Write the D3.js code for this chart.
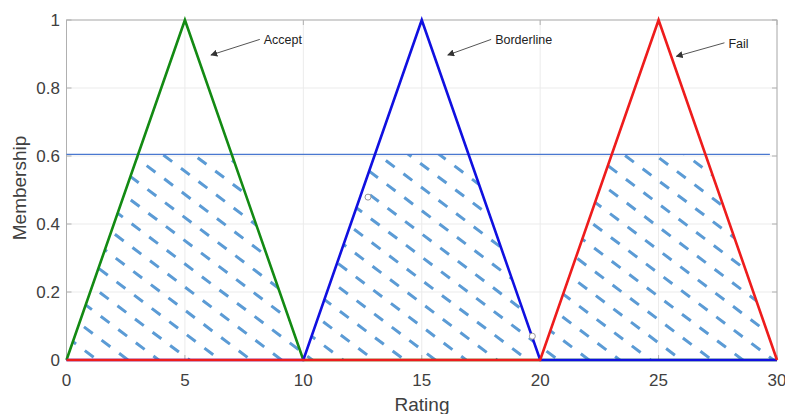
<!DOCTYPE html>
<html>
<head>
<meta charset="utf-8">
<script src="https://cdn.jsdelivr.net/npm/d3@7"></script>
<style>
  body { margin: 0; background: #fff; }
  text { font-family: "Liberation Sans", Arial, sans-serif; }
</style>
</head>
<body>
<svg id="chart"></svg>
<script>
const width = 785;
const height = 414;

// membership functions (triangles a, b, c) and their labels
const sets = ["Accept", "Borderline", "Fail"];
const setA = [0, 10, 20];
const setB = [5, 15, 25];
const setC = [10, 20, 30];
const setColors = ["#138a13", "#1010e0", "#ee1c1c"];

// cut level
const cutLevel = 0.605;
const cutEndX = 29.7;

// annotation positions (data coords): text anchor and arrow tip
const labelX = [8.33, 18.1, 27.95];
const labelY = [0.94, 0.94, 0.93];
const arrowTipX = [6.1, 16.1, 25.75];
const arrowTipY = [0.897, 0.897, 0.893];

// stray data-tip markers
const tipX = [12.73, 19.67];
const tipY = [0.479, 0.07];

const xTicks = [0, 5, 10, 15, 20, 25, 30];
const yTicks = [0, 0.2, 0.4, 0.6, 0.8, 1];

const svg = d3.select("#chart").attr("width", width).attr("height", height);

const x = d3.scaleLinear().domain([0, 30]).range([66.5, 777]);
const y = d3.scaleLinear().domain([0, 1]).range([360, 20]);

// 网格
svg.append("g")
  .selectAll("line.gx")
  .data(xTicks)
  .enter()
  .append("line")
  .attr("x1", (d) => x(d)).attr("x2", (d) => x(d))
  .attr("y1", y(0)).attr("y2", y(1))
  .attr("stroke", "#ebebeb");
svg.append("g")
  .selectAll("line.gy")
  .data(yTicks)
  .enter()
  .append("line")
  .attr("x1", x(0)).attr("x2", x(30))
  .attr("y1", (d) => y(d)).attr("y2", (d) => y(d))
  .attr("stroke", "#ebebeb");

// 边框 + 刻度
const axisColor = "#b0b0b0";
svg.append("rect")
  .attr("x", x(0)).attr("y", y(1))
  .attr("width", x(30) - x(0)).attr("height", y(0) - y(1))
  .attr("fill", "none").attr("stroke", axisColor).attr("stroke-width", 1);

const tickLen = 5;
xTicks.forEach((t) => {
  svg.append("line").attr("x1", x(t)).attr("x2", x(t))
    .attr("y1", y(0)).attr("y2", y(0) - tickLen).attr("stroke", axisColor);
  svg.append("line").attr("x1", x(t)).attr("x2", x(t))
    .attr("y1", y(1)).attr("y2", y(1) + tickLen).attr("stroke", axisColor);
});
yTicks.forEach((t) => {
  svg.append("line").attr("x1", x(0)).attr("x2", x(0) + tickLen)
    .attr("y1", y(t)).attr("y2", y(t)).attr("stroke", axisColor);
  svg.append("line").attr("x1", x(30)).attr("x2", x(30) - tickLen)
    .attr("y1", y(t)).attr("y2", y(t)).attr("stroke", axisColor);
});

// 刻度标签
svg.append("g")
  .selectAll("text")
  .data(xTicks)
  .enter()
  .append("text")
  .attr("x", (d) => x(d))
  .attr("y", 386)
  .attr("text-anchor", "middle")
  .attr("font-size", 17)
  .attr("fill", "#404040")
  .text((d) => d);
svg.append("g")
  .selectAll("text")
  .data(yTicks)
  .enter()
  .append("text")
  .attr("x", 60)
  .attr("y", (d) => y(d) + 6)
  .attr("text-anchor", "end")
  .attr("font-size", 17)
  .attr("fill", "#404040")
  .text((d) => d);

svg.append("text")
  .attr("x", 422).attr("y", 411)
  .attr("text-anchor", "middle")
  .attr("font-size", 19)
  .attr("fill", "#404040")
  .text("Rating");
svg.append("text")
  .attr("transform", "translate(26,188) rotate(-90)")
  .attr("text-anchor", "middle")
  .attr("font-size", 19)
  .attr("fill", "#404040")
  .text("Membership");

// 截断后的梯形区域 (clip)
const defs = svg.append("defs");
const clip = defs.append("clipPath").attr("id", "cutClip");
sets.forEach((s, i) => {
  const a = setA[i], b = setB[i], c = setC[i];
  const pts = [
    [a, 0],
    [a + (b - a) * cutLevel, cutLevel],
    [c - (c - b) * cutLevel, cutLevel],
    [c, 0]
  ];
  clip.append("polygon")
    .attr("points", pts.map((p) => [x(p[0]), y(p[1])].join(",")).join(" "));
});

// 斜线填充
const ang = (37 * Math.PI) / 180;
const dx = Math.cos(ang), dy = Math.sin(ang);
const nx = -dy, ny = dx;
const spacing = 18.5;
const hatch = svg.append("g").attr("clip-path", "url(#cutClip)");
const ox = x(0), oy = y(0);
for (let k = -60; k <= 10; k++) {
  const cx = ox + nx * k * spacing;
  const cy = oy + ny * k * spacing;
  hatch.append("line")
    .attr("x1", cx - 900 * dx).attr("y1", cy - 900 * dy)
    .attr("x2", cx + 900 * dx).attr("y2", cy + 900 * dy)
    .attr("stroke", "#5b9bd5")
    .attr("stroke-width", 3)
    .attr("stroke-dasharray", "11,11")
    .attr("stroke-dashoffset", (k * 7) % 22);
}

// 截断水平线
svg.append("line")
  .attr("x1", x(0)).attr("x2", x(cutEndX))
  .attr("y1", y(cutLevel)).attr("y2", y(cutLevel))
  .attr("stroke", "#4a78d0")
  .attr("stroke-width", 1.3);

// 隶属度函数曲线
const line = d3.line().x((d) => x(d[0])).y((d) => y(d[1]));
sets.forEach((s, i) => {
  const pts = [[0, 0], [setA[i], 0], [setB[i], 1], [setC[i], 0], [30, 0]];
  svg.append("path")
    .attr("d", line(pts))
    .attr("fill", "none")
    .attr("stroke", setColors[i])
    .attr("stroke-width", 2.6);
});

// 数据提示点
svg.append("g")
  .selectAll("circle")
  .data(tipX)
  .enter()
  .append("circle")
  .attr("cx", (d) => x(d))
  .attr("cy", (d, i) => y(tipY[i]))
  .attr("r", 3)
  .attr("fill", "#fff")
  .attr("stroke", "#999")
  .attr("stroke-width", 1);

// 注释箭头
defs.append("marker")
  .attr("id", "arrow")
  .attr("viewBox", "0 0 10 10")
  .attr("refX", 9).attr("refY", 5)
  .attr("markerWidth", 7).attr("markerHeight", 7)
  .attr("markerUnits", "userSpaceOnUse")
  .attr("orient", "auto")
  .append("path")
  .attr("d", "M0,0 L10,5 L0,10 z")
  .attr("fill", "#333");

sets.forEach((s, i) => {
  const tx = x(labelX[i]), ty = y(labelY[i]);
  svg.append("line")
    .attr("x1", tx - 4).attr("y1", ty - 1)
    .attr("x2", x(arrowTipX[i])).attr("y2", y(arrowTipY[i]))
    .attr("stroke", "#555")
    .attr("stroke-width", 1)
    .attr("marker-end", "url(#arrow)");
  svg.append("text")
    .attr("x", tx).attr("y", ty + 4)
    .attr("font-size", 12.5)
    .attr("fill", "#222")
    .text(s);
});
</script>
</body>
</html>
